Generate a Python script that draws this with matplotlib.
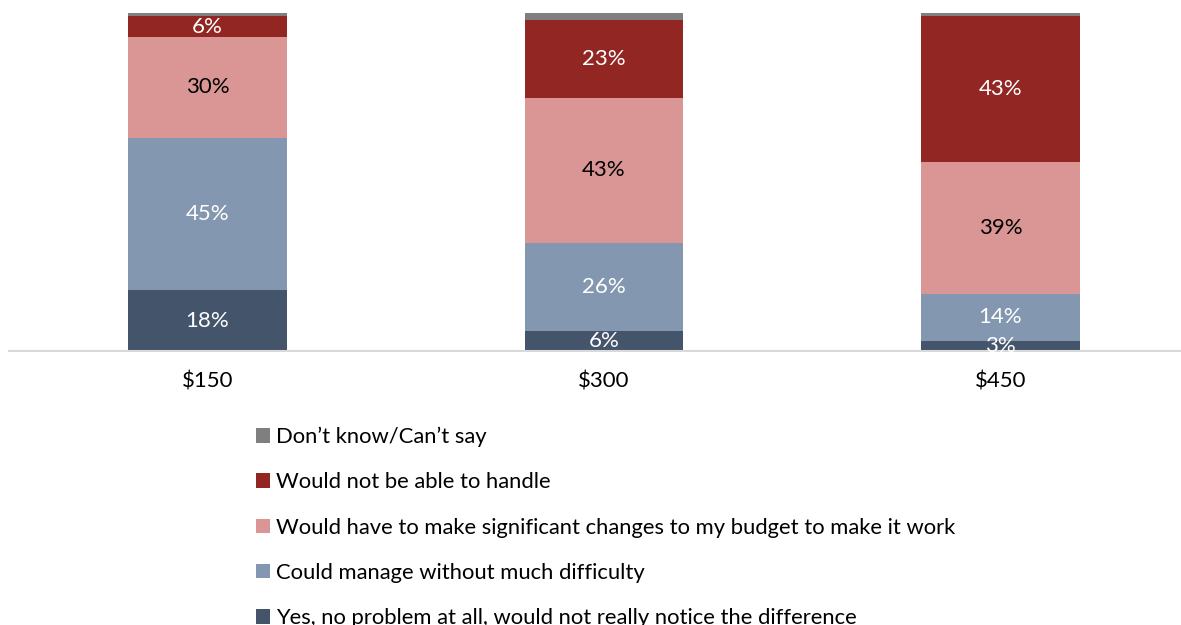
import matplotlib.pyplot as plt
from matplotlib.patches import Patch
import numpy as np

plt.rcParams['font.family'] = ['Lato', 'DejaVu Sans']

# Survey responses by size of unexpected expense
categories = ['$150', '$300', '$450']
no_problem = [18, 6, 3]
manage = [45, 26, 14]
budget_changes = [30, 43, 39]
cannot_handle = [6, 23, 43]
dont_know = [1, 2, 1]

series = [
    ('Yes, no problem at all, would not really notice the difference', no_problem, '#44546A', 'white'),
    ('Could manage without much difficulty', manage, '#8497B0', 'white'),
    ('Would have to make significant changes to my budget to make it work', budget_changes, '#DA9694', 'black'),
    ('Would not be able to handle', cannot_handle, '#922622', 'white'),
    ('Don\u2019t know/Can\u2019t say', dont_know, '#7F7F7F', None),
]

fig = plt.figure(figsize=(11.81, 6.25), dpi=100)
ax = fig.add_axes([9.25 / 1181, 274 / 625, 1189.5 / 1181, 338 / 625])

x = np.arange(len(categories))
bottom = np.zeros(len(categories))
handles = []
for label, vals, color, txt_color in series:
    vals = np.array(vals, dtype=float)
    ax.bar(x, vals, width=0.40, bottom=bottom, color=color, edgecolor='none')
    if txt_color:
        for xi, b, v in zip(x, bottom, vals):
            ax.text(xi, b + v / 2, f'{v:.0f}%', ha='center', va='center',
                    fontsize=16, color=txt_color)
    bottom += vals
    handles.append(Patch(facecolor=color, edgecolor='none', label=label))

ax.set_xlim(-0.5, 2.5)
ax.set_ylim(0, 100)
ax.set_xticks(x)
ax.set_xticklabels(categories, fontsize=16)
ax.tick_params(axis='x', length=0, pad=15)
ax.set_yticks([])
for s in ['top', 'right', 'left']:
    ax.spines[s].set_visible(False)
ax.spines['bottom'].set_color('#D9D9D9')
ax.spines['bottom'].set_linewidth(1.5)

fig.legend(handles=handles[::-1], loc='upper left',
           bbox_to_anchor=(247 / 1181, 1 - 418 / 625), frameon=False,
           fontsize=15.8, handlelength=0.64, handleheight=0.64, handletextpad=0.27,
           labelspacing=1.15, borderaxespad=0)

fig.savefig('out.png', dpi=100, facecolor='white')
